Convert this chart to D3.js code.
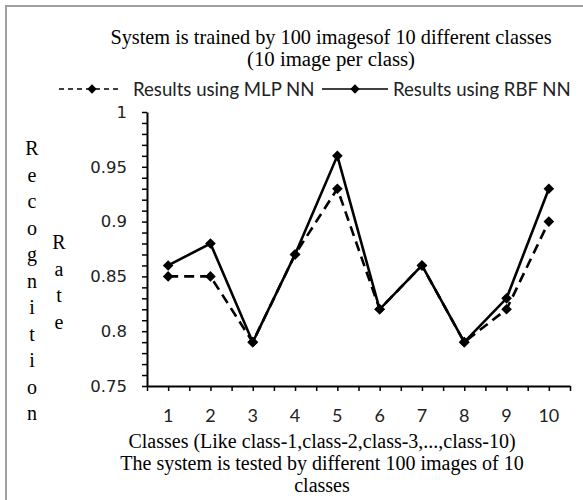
<!DOCTYPE html>
<html>
<head>
<meta charset="utf-8">
<script src="https://cdn.jsdelivr.net/npm/d3@7"></script>
<style>
  body { margin: 0; background: #fff; }
  svg { display: block; }
</style>
</head>
<body>
<svg id="chart" width="583" height="500"></svg>
<script>
// values
let classes = [1, 2, 3, 4, 5, 6, 7, 8, 9, 10];
let mlp = [0.85, 0.85, 0.79, 0.87, 0.93, 0.82, 0.86, 0.79, 0.82, 0.90];
let rbf = [0.86, 0.88, 0.79, 0.87, 0.96, 0.82, 0.86, 0.79, 0.83, 0.93];
let yLabels = [0.75, 0.8, 0.85, 0.9, 0.95, 1];
let titleLines = ["System is trained by 100 imagesof 10 different classes", "(10 image per class)"];
let xTitleLines = ["Classes (Like class-1,class-2,class-3,...,class-10)",
    "The system is tested by different 100 images of 10", "classes"];
let legendNames = ["Results using MLP NN", "Results using RBF NN"];

let svg = d3.select("#chart");
let serif = "'Liberation Serif', 'Times New Roman', serif";
let sans = "Lato, 'Open Sans', sans-serif";
let verd = "'DejaVu Sans', Verdana, sans-serif";

let plotLeft = 147, plotRight = 570, plotTop = 112, plotBottom = 386;

let x = d3.scaleLinear().domain([0.5, 10.5]).range([plotLeft, plotRight]);
let y = d3.scaleLinear().domain([0.75, 1]).range([plotBottom, plotTop]);

// frame (only top and left edges visible)
svg.append("path")
    .attr("d", "M6,500 V6 H583")
    .attr("fill", "none")
    .attr("stroke", "#a0a0a0")
    .attr("stroke-width", 2);

// title
svg.selectAll(".title")
    .data(titleLines)
    .enter().append("text")
    .attr("class", "title")
    .attr("x", 331)
    .attr("y", (d, i) => 44 + i * 22)
    .attr("text-anchor", "middle")
    .style("font-family", serif)
    .style("font-size", (d, i) => i === 0 ? "20.3px" : "20.8px")
    .text(d => d);

// y axis, minor ticks every 0.01
let yAxis = svg.append("g")
    .attr("transform", "translate(" + plotLeft + ",0)")
    .call(d3.axisLeft(y)
        .tickValues(d3.range(0, 26).map(i => 0.75 + i * 0.01))
        .tickSize(5)
        .tickSizeOuter(0)
        .tickFormat(""));
yAxis.select(".domain").attr("stroke-width", 2);
yAxis.selectAll(".tick line").attr("stroke-width", 1.5);

svg.selectAll(".ylab")
    .data(yLabels)
    .enter().append("text")
    .attr("class", "ylab")
    .attr("x", 127)
    .attr("y", d => y(d))
    .attr("dy", "0.35em")
    .attr("text-anchor", "end")
    .style("font-family", verd)
    .style("font-size", "16.5px")
    .style("fill", "#222")
    .text(d => d);

// x axis, ticks every half class
let xAxis = svg.append("g")
    .attr("transform", "translate(0," + plotBottom + ")")
    .call(d3.axisBottom(x)
        .tickValues(d3.range(0, 21).map(i => 0.5 + i * 0.5))
        .tickSize(5)
        .tickSizeOuter(0)
        .tickFormat(""));
xAxis.select(".domain").attr("stroke-width", 2);
xAxis.selectAll(".tick line").attr("stroke-width", 1.5);

svg.selectAll(".xlab")
    .data(classes)
    .enter().append("text")
    .attr("class", "xlab")
    .attr("x", d => x(d))
    .attr("y", 416)
    .attr("dy", "0.35em")
    .attr("text-anchor", "middle")
    .style("font-family", sans)
    .style("font-size", "18px")
    .style("fill", "#222")
    .text(d => d);

// axis titles
svg.selectAll(".xtitle")
    .data(xTitleLines)
    .enter().append("text")
    .attr("class", "xtitle")
    .attr("x", 322)
    .attr("y", (d, i) => 448 + i * 22)
    .attr("text-anchor", "middle")
    .style("font-family", serif)
    .style("font-size", "20px")
    .text(d => d);

function stackedLabel(word, cx, cy0, step){
    svg.append("g").selectAll("text")
        .data(word.split(""))
        .enter().append("text")
        .attr("x", cx)
        .attr("y", (d, i) => cy0 + i * step)
        .attr("dy", "0.35em")
        .attr("text-anchor", "middle")
        .style("font-family", serif)
        .style("font-size", "20px")
        .text(d => d);
}
stackedLabel("Recognition", 32, 148, 26.5);
stackedLabel("Rate", 59, 242, 26.6);

// series
let line = d3.line()
    .x((d, i) => x(classes[i]))
    .y(d => y(d));

let diamond = d3.symbol().type(d3.symbolDiamond2).size(72);

function drawSeries(values, dash){
    svg.append("path")
        .datum(values)
        .attr("d", line)
        .attr("fill", "none")
        .attr("stroke", "#000")
        .attr("stroke-width", 2.6)
        .attr("stroke-dasharray", dash);
    svg.append("g").selectAll("path")
        .data(values)
        .enter().append("path")
        .attr("d", diamond)
        .attr("transform", (d, i) => "translate(" + x(classes[i]) + "," + y(d) + ")")
        .attr("fill", "#000");
}
drawSeries(mlp, "10,6");
drawSeries(rbf, null);

// legend
let legDiamond = d3.symbol().type(d3.symbolDiamond2).size(56);
let leg = svg.append("g");
leg.append("line")
    .attr("x1", 59).attr("x2", 121).attr("y1", 89).attr("y2", 89)
    .attr("stroke", "#000").attr("stroke-width", 1.5)
    .attr("stroke-dasharray", "5,4");
leg.append("path").attr("d", legDiamond)
    .attr("transform", "translate(92,89)");
leg.append("line")
    .attr("x1", 322).attr("x2", 388).attr("y1", 89).attr("y2", 89)
    .attr("stroke", "#000").attr("stroke-width", 1.5);
leg.append("path").attr("d", legDiamond)
    .attr("transform", "translate(355,89)");
leg.selectAll("text")
    .data(legendNames)
    .enter().append("text")
    .attr("x", (d, i) => i === 0 ? 133 : 393)
    .attr("y", 89)
    .attr("dy", "0.35em")
    .style("font-family", sans)
    .style("font-size", "18.6px")
    .style("fill", "#222")
    .text(d => d);
</script>
</body>
</html>
